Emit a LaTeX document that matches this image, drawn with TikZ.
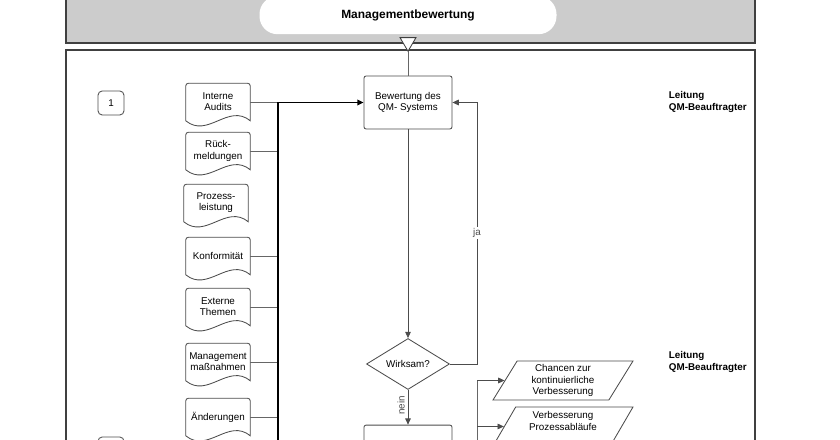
\documentclass[tikz,border=0pt]{standalone}
\usepackage{fontspec}
\setmainfont{Liberation Sans}
\setsansfont{Liberation Sans}
\usepackage{tikz}
\usetikzlibrary{arrows.meta,positioning,shapes.geometric,calc}

\begin{document}
\begin{tikzpicture}[
		font=\fontsize{7}{8}\selectfont\sffamily,
		>={Triangle[length=4.5pt,width=4pt]},
		docblock/.style={minimum width=1.6cm, minimum height=0.925cm, inner sep=1pt, align=center},
		docline/.style={draw=black!70, line width=0.6pt},
		procblock/.style={draw=black!70, line width=0.6pt, fill=white, rounded corners=1.5pt, minimum width=2.2cm, minimum height=1.325cm, align=center},
		decblock/.style={diamond, draw=black!70, line width=0.6pt, fill=white, minimum width=2.075cm, minimum height=1.25cm, inner sep=0pt},
		outblock/.style={trapezium, trapezium left angle=55, trapezium right angle=125, trapezium stretches body, draw=black!70, line width=0.6pt, fill=white, minimum width=3.5cm, minimum height=0.975cm, align=center, inner sep=1pt},
		numblock/.style={draw=black!70, line width=0.6pt, rounded corners=3pt, minimum width=0.65cm, minimum height=0.6cm},
		roleblock/.style={font=\fontsize{7}{8}\selectfont\bfseries, align=left, anchor=west},
		link/.style={black!60, line width=0.6pt},
		arrow/.style={black!70, line width=0.6pt, ->},
		busline/.style={black, line width=1.2pt},
		]

		\clip (0,0) rectangle (21,11);

		% swimlane frame
		\draw[black!75, line width=0.8pt, fill=gray!40] (1.65,9.925) rectangle (18.875,11.5);
		\draw[black!75, line width=0.8pt] (1.65,9.75) rectangle (18.875,-1);
		\node[fill=white, rounded corners=0.45cm, minimum width=7.425cm, minimum height=0.95cm, font=\fontsize{8.5}{10}\selectfont\bfseries] (title) at (10.2,10.62) {Managementbewertung};
		\coordinate (tip) at (10.2,9.72);
		\draw[black!75, fill=white, line width=0.6pt] (tip) -- ++(-0.2,0.34) -- ++(0.4,0) -- cycle;

		\node[numblock] (numone) at (2.775,8.425) {1};
		\node[numblock] (numtwo) at (2.775,-0.225) {};

		% inputs
		\node[docblock] (audits) at (5.45,8.45) {Interne\\Audits};
		\node[docblock] (feedback) at (5.45,7.225) {Rück-\\meldungen};
		\node[docblock] (perform) at (5.4,5.925) {Prozess-\\leistung};
		\node[docblock] (conform) at (5.45,4.6) {Konformität};
		\node[docblock] (extern) at (5.45,3.325) {Externe\\Themen};
		\node[docblock] (measures) at (5.45,1.95) {Management\\maßnahmen};
		\node[docblock] (changes) at (5.45,0.575) {Änderungen};
		\foreach \n in {audits,feedback,perform,conform,extern,measures,changes}
			\draw[docline] (\n.south west) [rounded corners=2pt] -- (\n.north west) -- (\n.north east) [sharp corners] -- (\n.south east)
				.. controls +(-0.55,0.45) and +(0.55,-0.45) .. (\n.south west) -- cycle;

		% main flow
		\node[procblock] (review) at (10.2,8.4375) {Bewertung des\\QM- Systems};
		\node[decblock] (check) at (10.2,1.9) {Wirksam?};
		\node[procblock] (action) at (10.2,-0.29) {};
		\node[outblock] (chances) at (14.075,1.4875) {Chancen zur\\kontinuierliche\\Verbesserung};
		\node[outblock] (improve) at (14.075,0.3375) {Verbesserung\\Prozessabläufe\\ };

		\node[roleblock] (roleone) at (16.6,8.45) {Leitung\\QM-Beauftragter};
		\node[roleblock] (roletwo) at (16.6,1.95) {Leitung\\QM-Beauftragter};

		\coordinate (bustop) at (6.95,8.4375);
		\coordinate (busend) at (6.95,-1);
		\coordinate (loop) at (11.925,1.9);
		\coordinate (outtop) at (11.925,1.4875);
		\coordinate (outend) at (11.925,-1);

		\draw[link] (tip) -- (review.north);
		\foreach \n in {audits,feedback,conform,extern,measures,changes}
			\draw[link] (\n.east) -- (\n.east -| bustop);
		\draw[busline] (busend) -- (bustop);
		\draw[busline,->] (bustop) -- (review.west);
		\draw[arrow] (review.south) -- (check.north);
		\draw[arrow] (check.east) -- (loop) |- node[pos=0.25, fill=white, inner sep=1pt] {ja} (review.east);
		\draw[arrow] (check.south) -- node[pos=0.45, rotate=90, anchor=south, inner sep=2pt] {nein} (action.north);
		\draw[link] (outend) -- (outtop);
		\draw[arrow] (outtop) -- (chances.west);
		\draw[arrow] (improve.west -| outtop) -- (improve.west);
	\end{tikzpicture}
\end{document}
